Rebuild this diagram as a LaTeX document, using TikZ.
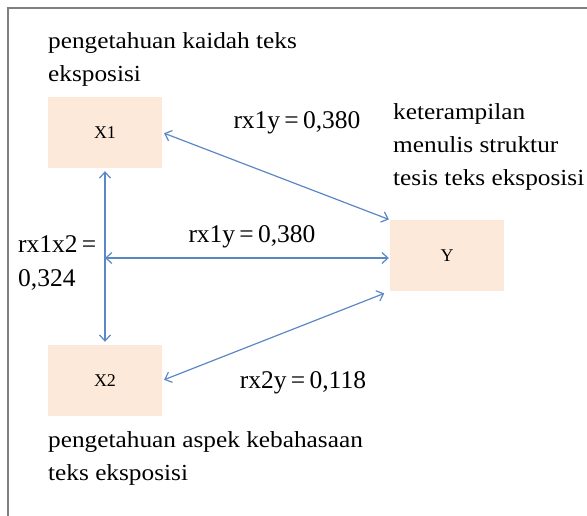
\documentclass[tikz,border=0pt]{standalone}
\usepackage{fontspec}
\setmainfont{Liberation Serif}
\newfontfamily\descfont[FakeStretch=1.1]{Liberation Serif}
\usetikzlibrary{arrows.meta}
\definecolor{boxfill}{HTML}{FDE9D9}
\definecolor{linkblue}{HTML}{5B88C4}
\definecolor{framegray}{HTML}{7F7F7F}
\tikzset{
  varbox/.style={draw=none, fill=boxfill, minimum width=114pt, minimum height=71pt, inner sep=0pt,
    font=\fontsize{18}{20}\selectfont},
  link/.style={draw=linkblue, line width=1.2pt, {Straight Barb[length=6pt,width=11pt,line width=1.2pt]}-{Straight Barb[length=6pt,width=11pt,line width=1.2pt]}},
  desc/.style={anchor=west, inner sep=0pt, font=\descfont\fontsize{23}{33}\selectfont, align=left},
  coef/.style={inner sep=0pt, font=\fontsize{25.5}{36}\selectfont}
}
\begin{document}
\begin{tikzpicture}[x=1pt,y=-1pt]
  \useasboundingbox (0,0) rectangle (587,516);
  % frame
  \draw[framegray, line width=1.3pt] (8,516) -- (8,8) -- (587,8);

  % variables
  \node[varbox] (x1) at (105,132.5) {X1};
  \node[varbox] (x2) at (105,380.5) {X2};
  \node[varbox] (y)  at (447,255.5) {Y};

  % descriptions
  \node[desc] (dx1) at (48,59) {pengetahuan kaidah teks\\eksposisi};
  \node[desc] (dy)  at (393,147) {keterampilan\\menulis struktur\\tesis teks eksposisi};
  \node[desc] (dx2) at (48,458) {pengetahuan aspek kebahasaan\\teks eksposisi};

  % correlations
  \coordinate (j) at (105,258);
  \draw[link, shorten <=3pt, shorten >=3pt] (x1.south) -- (x2.north);
  \draw[link, shorten >=1pt] (j) -- (y.west |- j);
  \draw[link, shorten <=2pt, shorten >=1pt] (x1.east) -- (y.north west);
  \draw[link, shorten <=2pt, shorten >=6pt] (x2.east) -- (y.south west);

  % coefficients
  \node[coef] (r1) at (297,123) {rx1y\,=\,0,380};
  \node[coef] (r2) at (252,237) {rx1y\,=\,0,380};
  \node[coef, anchor=west] (r3) at (18,244) {rx1x2\,=};
  \node[coef, anchor=west] (r4) at (18,280) {0,324};
  \node[coef] (r5) at (303,383) {rx2y\,=\,0,118};
\end{tikzpicture}
\end{document}
